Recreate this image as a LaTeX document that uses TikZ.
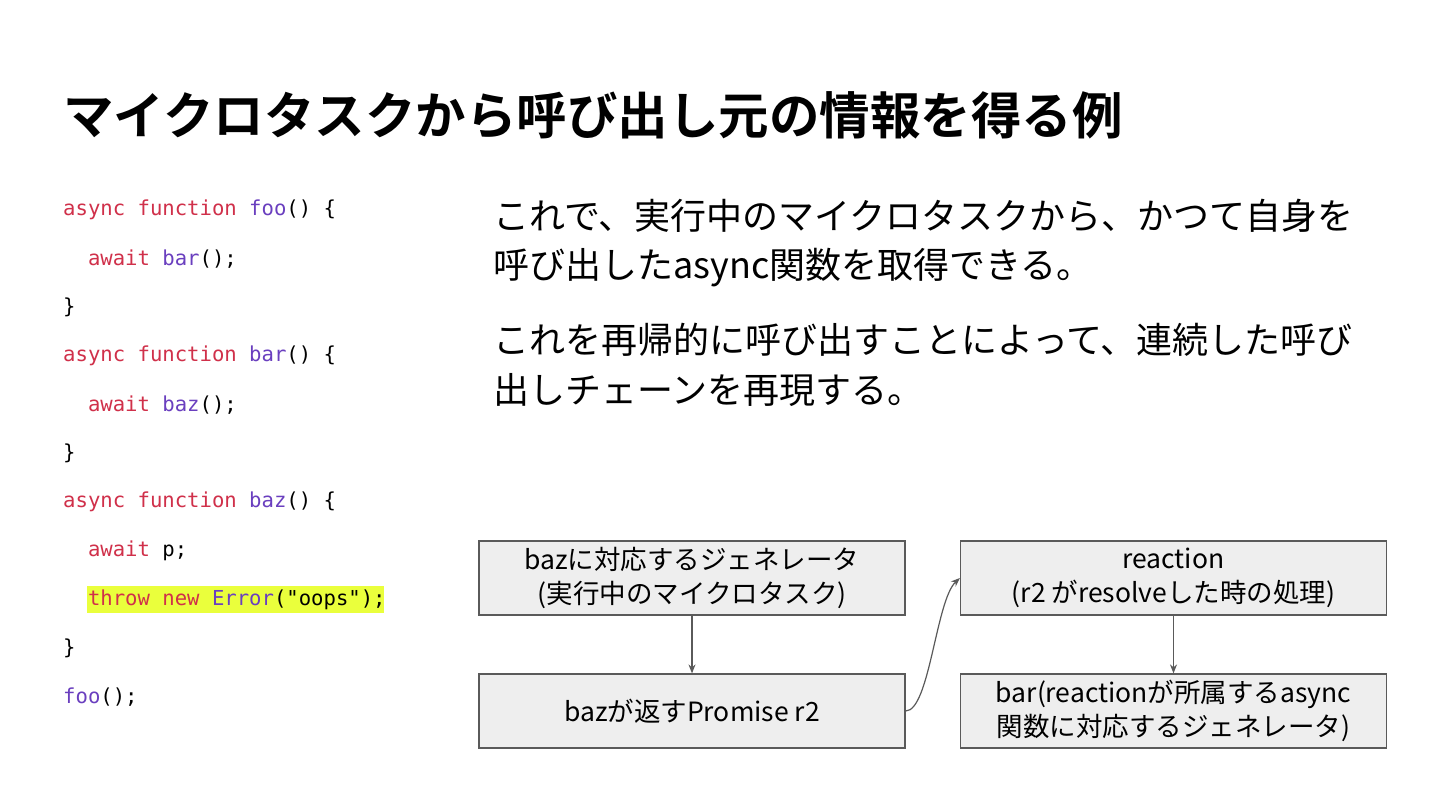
\documentclass[tikz,border=0pt]{standalone}
\usepackage{fontspec}
\usetikzlibrary{arrows.meta,calc}
\setmainfont{Noto Sans CJK JP}
\newfontfamily\jp{Noto Sans CJK JP}
\newfontfamily\jpb{Noto Sans CJK JP Bold}
\newfontfamily\codefont{DejaVu Sans Mono}
\definecolor{kw}{HTML}{D0304A}
\definecolor{fn}{HTML}{6A3FBF}
\definecolor{hl}{HTML}{EAFF3C}
\definecolor{boxfill}{HTML}{EEEEEE}
\definecolor{boxline}{HTML}{5A5A5A}
\newcommand{\K}[1]{\textcolor{kw}{#1}}
\newcommand{\F}[1]{\textcolor{fn}{#1}}
\begin{document}
\begin{tikzpicture}[x=1pt,y=-1pt,
  codeline/.style={anchor=west,inner sep=0pt,font=\codefont\fontsize{20.6}{22}\selectfont},
  para/.style={anchor=west,inner sep=0pt,font=\jp\fontsize{36}{40}\selectfont},
  flowbox/.style={draw=boxline,line width=1.2pt,fill=boxfill,minimum width=426pt,minimum height=74pt,inner sep=0pt,align=center,font=\jp\fontsize{26.5}{34}\selectfont},
  flowarrow/.style={draw=boxline,line width=1.2pt,-{Stealth[length=9pt,width=7pt]}}]
\useasboundingbox[fill=white] (0,0) rectangle (1440,810);
% title
\node[anchor=west,inner sep=0pt,font=\jpb\fontsize{50.5}{56}\selectfont] (title) at (63,115) {マイクロタスクから呼び出し元の情報を得る例};
% code
\fill[hl] (87,586) rectangle (384,613);
\node[codeline] (c1) at (63,210) {\K{async function} \F{foo}() \{};
\node[codeline] (c2) at (63,259) {\phantom{xx}\K{await} \F{bar}();};
\node[codeline] (c3) at (63,307) {\}};
\node[codeline] (c4) at (63,356) {\K{async function} \F{bar}() \{};
\node[codeline] (c5) at (63,405) {\phantom{xx}\K{await} \F{baz}();};
\node[codeline] (c6) at (63,453) {\}};
\node[codeline] (c7) at (63,502) {\K{async function} \F{baz}() \{};
\node[codeline] (c8) at (63,551) {\phantom{xx}\K{await} p;};
\node[codeline] (c9) at (63,600) {\phantom{xx}\K{throw new} \F{Error}("oops");};
\node[codeline] (c10) at (63,648) {\}};
\node[codeline] (c11) at (63,697) {\F{foo}();};
% paragraph
\node[para] (p1) at (493,216) {これで、実行中のマイクロタスクから、かつて自身を};
\node[para] (p2) at (493,268) {呼び出したasync関数を取得できる。};
\node[para] (p3) at (493,340) {これを再帰的に呼び出すことによって、連続した呼び};
\node[para] (p4) at (493,390) {出しチェーンを再現する。};
% boxes
\node[flowbox] (b1) at (692,578) {bazに対応するジェネレータ\\(実行中のマイクロタスク)};
\node[flowbox] (b2) at (692,711) {bazが返すPromise r2};
\node[flowbox] (b3) at (1173.5,578) {reaction\\(r2 がresolveした時の処理)};
\node[flowbox] (b4) at (1173.5,711) {bar(reactionが所属するasync\\関数に対応するジェネレータ)};
\draw[flowarrow] (b1) -- (b2);
\draw[flowarrow] (b3) -- (b4);
\draw[flowarrow] (b2.east) .. controls ($(b2.east)+(24,0)$) and ($(b3.west)+(-24,22)$) .. (b3.west);
\end{tikzpicture}
\end{document}
